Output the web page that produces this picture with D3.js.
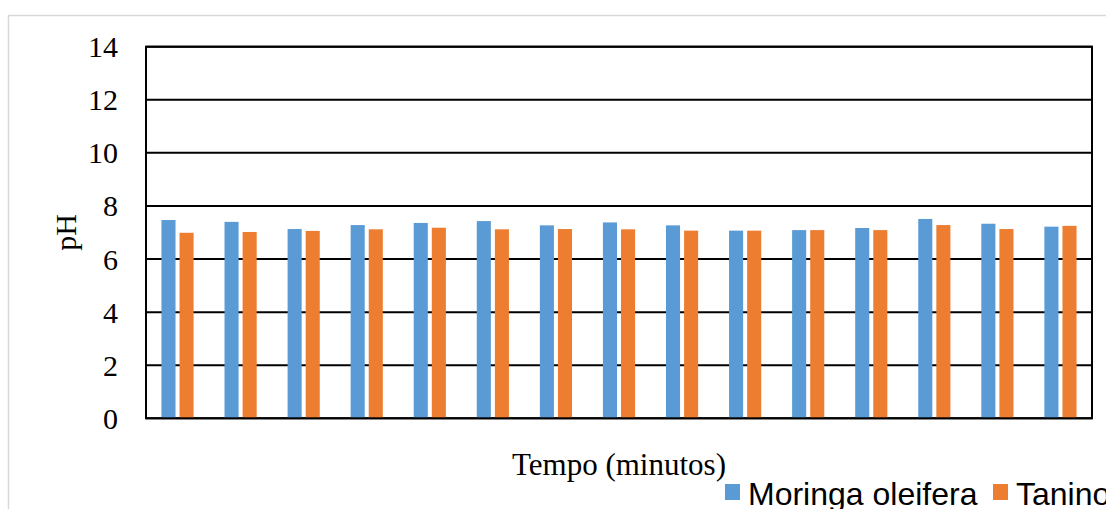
<!DOCTYPE html>
<html><head><meta charset="utf-8">
<script src="https://cdn.jsdelivr.net/npm/d3@7"></script>
<style>body{margin:0;background:#fff;}svg{display:block;}</style>
</head><body>
<script>
const categories = ["1","2","3","4","5","6","7","8","9","10","11","12","13","14","15"];
const seriesNames = ["Moringa oleifera", "Tanino"];
const moringa = [7.47, 7.40, 7.13, 7.28, 7.36, 7.43, 7.27, 7.38, 7.27, 7.07, 7.09, 7.17, 7.51, 7.33, 7.22];
const tanino  = [6.99, 7.02, 7.06, 7.12, 7.18, 7.12, 7.13, 7.12, 7.07, 7.07, 7.09, 7.09, 7.28, 7.13, 7.25];
const yTicks = [0, 2, 4, 6, 8, 10, 12, 14];
const colors = ["#5b9bd5", "#ed7d31"];

const W = 1106, H = 509;
const svg = d3.select("body").append("svg").attr("width", W).attr("height", H);

// outer chart frame
svg.append("rect").attr("x", 8.5).attr("y", 15.5).attr("width", W + 20).attr("height", H + 20)
  .attr("fill", "#fff").attr("stroke", "#d9d9d9").attr("stroke-width", 1.5);

const L = 146, R = 1092, T = 46.7, B = 418.3;
const y = d3.scaleLinear().domain([0, 14]).range([B, T]);
const x0 = d3.scaleBand().domain(categories).range([L, R]).paddingInner(0.49).paddingOuter(0.245);
const x1 = d3.scaleBand().domain(seriesNames).range([0, x0.bandwidth()]).paddingInner(0.222);

// gridlines
svg.append("g").selectAll("line").data(yTicks).join("line")
  .attr("x1", L).attr("x2", R).attr("y1", d => y(d)).attr("y2", d => y(d))
  .attr("stroke", "#000").attr("stroke-width", 2);

// bars
const data = categories.map((c, i) => ({c, vals: [moringa[i], tanino[i]]}));
const g = svg.append("g").selectAll("g").data(data).join("g")
  .attr("transform", d => `translate(${x0(d.c)},0)`);
g.selectAll("rect").data(d => d.vals.map((v, k) => ({v, k}))).join("rect")
  .attr("x", d => x1(seriesNames[d.k]))
  .attr("width", x1.bandwidth())
  .attr("y", d => y(d.v))
  .attr("height", d => B - y(d.v))
  .attr("fill", d => colors[d.k]);

// plot border
svg.append("rect").attr("x", L).attr("y", T).attr("width", R - L).attr("height", B - T)
  .attr("fill", "none").attr("stroke", "#000").attr("stroke-width", 2);

// y tick labels
svg.append("g").selectAll("text").data(yTicks).join("text")
  .attr("x", 118).attr("y", d => y(d)).attr("dy", "0.35em")
  .attr("text-anchor", "end")
  .attr("font-family", "'Liberation Serif', 'Times New Roman', serif")
  .attr("font-size", 30).attr("fill", "#000")
  .text(d => d);

// y title
svg.append("text")
  .attr("transform", `translate(76,${(T + B) / 2}) rotate(-90)`)
  .attr("text-anchor", "middle")
  .attr("font-family", "'Liberation Serif', 'Times New Roman', serif")
  .attr("font-size", 30).attr("fill", "#000").text("pH");

// x title
svg.append("text").attr("x", (L + R) / 2).attr("y", 475)
  .attr("text-anchor", "middle")
  .attr("font-family", "'Liberation Serif', 'Times New Roman', serif")
  .attr("font-size", 31).attr("fill", "#000").text("Tempo (minutos)");

// legend
const legX = [725, 993];
seriesNames.forEach((s, k) => {
  svg.append("rect").attr("x", legX[k]).attr("y", 484).attr("width", 15).attr("height", 16).attr("fill", colors[k]);
  svg.append("text").attr("x", legX[k] + 23).attr("y", 505)
    .attr("font-family", "'Liberation Sans', Arial, sans-serif")
    .attr("font-size", 32).attr("fill", "#000").text(s);
});
</script>
</body></html>
